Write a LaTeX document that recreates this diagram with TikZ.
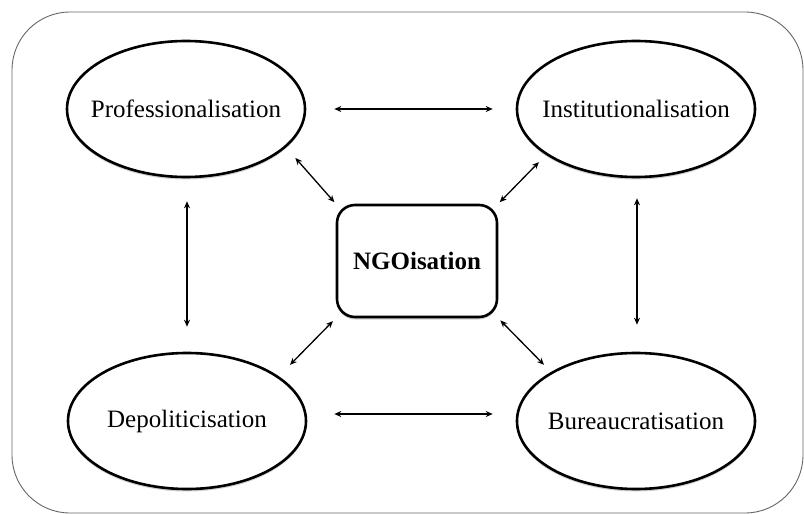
\documentclass[tikz,border=0pt]{standalone}
\usepackage{fontspec}
\setmainfont{Liberation Serif}
\usetikzlibrary{arrows.meta,shapes.geometric,shadows}
\begin{document}
\begin{tikzpicture}[x=1pt,y=-1pt,
  concept/.style={ellipse,draw,line width=2.6pt,fill=white,minimum width=238pt,minimum height=136pt,inner xsep=-30pt,inner ysep=0pt,
    font=\fontsize{25}{30}\selectfont,
    drop shadow={shadow xshift=0pt,shadow yshift=-2.5pt,opacity=0.18,fill=black}},
  corebox/.style={rectangle,rounded corners=18pt,draw,line width=2.6pt,fill=white,minimum width=160pt,minimum height=112pt,inner sep=0pt,
    font=\fontsize{25}{30}\selectfont\bfseries,
    drop shadow={shadow xshift=0pt,shadow yshift=-2.5pt,opacity=0.18,fill=black}},
  arr/.style={line width=1.3pt,{Stealth[length=7pt,width=6pt]}-{Stealth[length=7pt,width=6pt]}},
  frame/.style={draw=black!60,line width=0.9pt,rounded corners=58pt}]
\useasboundingbox (0,0) rectangle (804,514);
\draw[frame] (12,12) rectangle (803,513);
\node[concept] (prof) at (186,109) {Professionalisation};
\node[concept] (inst) at (636,109) {Institutionalisation};
\node[concept] (depol) at (187,421) {Depoliticisation};
\node[concept] (bure) at (636,421) {Bureaucratisation};
\node[corebox] (ngo) at (417,261) {NGOisation};
% horizontal
\draw[arr,shorten <=28pt,shorten >=23pt] (prof) -- (inst);
\draw[arr] ([shift={(27pt,7pt)}]depol.east) -- ([shift={(-23pt,7pt)}]bure.west);
% vertical
\draw[arr,shorten <=23pt,shorten >=25pt] ([xshift=1pt]prof.south) -- (depol.north);
\draw[arr,shorten <=20pt,shorten >=27pt] ([xshift=1pt]inst.south) -- ([xshift=1pt]bure.north);
% diagonals
\draw[arr,shorten <=14pt,shorten >=2pt] (prof.-21) -- (ngo.north west);
\draw[arr,shorten <=10pt,shorten >=2pt] (inst.207) -- (ngo.north east);
\draw[arr,shorten <=16pt,shorten >=4pt] (depol.26) -- (ngo.south west);
\draw[arr,shorten <=10pt,shorten >=3pt] (bure.150) -- (ngo.south east);
\end{tikzpicture}
\end{document}
